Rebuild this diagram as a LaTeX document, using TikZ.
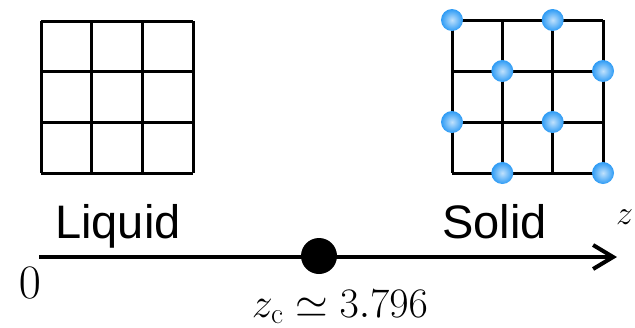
\RequirePackage{fix-cm}
\documentclass[tikz,border=0pt]{standalone}
\usepackage{fontspec}
\newfontfamily\arialfont{Liberation Sans}
\usetikzlibrary{arrows.meta}
\definecolor{ballblue}{RGB}{45,155,245}
\tikzset{
  gridline/.style={line width=3pt, black},
  axisline/.style={line width=4pt, black},
  atom/.style={circle, inner sep=0pt, minimum size=22pt, shading=radial,
     inner color=ballblue!30!white, outer color=ballblue},
  bigdot/.style={circle, fill=black, inner sep=0pt, minimum size=36pt},
  sanslabel/.style={inner sep=0pt, font=\arialfont\fontsize{47}{50}\selectfont},
  mathlabel/.style={inner sep=0pt, font=\fontsize{42}{46}\selectfont},
}
\begin{document}
\begin{tikzpicture}[x=1pt, y=-1pt]
\useasboundingbox (0,0) rectangle (635,327);
% liquid grid
\foreach \v in {41,91.7,142.3,193} {
  \draw[gridline] (\v,21) -- (\v,173);
}
\foreach \h in {21,71.7,122.3,173} {
  \draw[gridline] (41,\h) -- (193,\h);
}
% solid grid
\foreach \v in {452,502.3,552.7,603} {
  \draw[gridline] (\v,20) -- (\v,173);
}
\foreach \h in {20,71,122,173} {
  \draw[gridline] (452,\h) -- (603,\h);
}
\node[atom] (a1) at (452,20) {};
\node[atom] (a2) at (552.7,20) {};
\node[atom] (a3) at (502.3,71) {};
\node[atom] (a4) at (603,71) {};
\node[atom] (a5) at (452,122) {};
\node[atom] (a6) at (552.7,122) {};
\node[atom] (a7) at (502.3,173) {};
\node[atom] (a8) at (603,173) {};
% labels
\node[sanslabel, anchor=base west] (liq) at (55,238) {Liquid};
\node[sanslabel, anchor=base west] (sol) at (442,238) {Solid};
% axis
\coordinate (ax0) at (39,257);
\coordinate (ax1) at (617,257);
\draw[axisline, -{Straight Barb[length=20pt, width=24pt]}] (ax0) -- (ax1);
\node[bigdot] (zc) at (319,256) {};
\node[mathlabel, anchor=base, font=\fontsize{48}{50}\selectfont] (zero) at (30,298) {$0$};
\node[mathlabel, anchor=base west, font=\fontsize{34}{38}\selectfont] (zlab) at (616,224) {$z$};
\node[mathlabel, anchor=base] (zcl) at (340,317) {$z_{\mathrm{c}} \simeq 3.796$};
\end{tikzpicture}
\end{document}
